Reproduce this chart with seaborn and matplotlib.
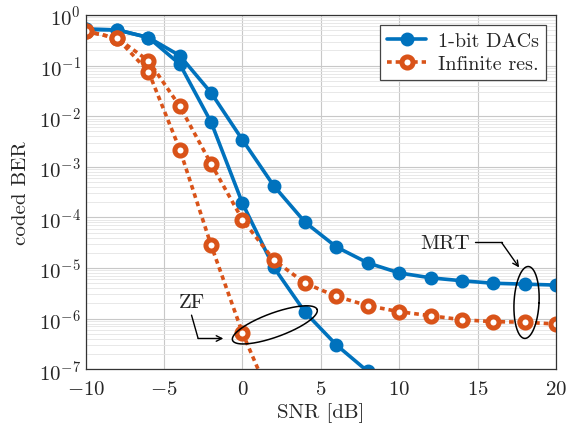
import numpy as np
import pandas as pd
import matplotlib
matplotlib.use('Agg')
import matplotlib.pyplot as plt
import seaborn as sns

# SNR grid and BER curves
snr = [-10, -8, -6, -4, -2, 0, 2, 4, 6, 8, 10, 12, 14, 16, 18, 20]
ber_1bit_mrt = [0.53, 0.51, 0.36, 0.158, 0.029, 3.4e-3, 4.2e-4, 8.0e-5, 2.6e-5, 1.26e-5,
                8.0e-6, 6.4e-6, 5.6e-6, 5.0e-6, 4.8e-6, 4.6e-6]
ber_inf_mrt = [0.48, 0.35, 0.125, 0.0157, 1.14e-3, 9.0e-5, 1.44e-5, 5.0e-6, 2.75e-6, 1.8e-6,
               1.37e-6, 1.14e-6, 9.5e-7, 8.7e-7, 8.5e-7, 7.8e-7]
snr_zf_1bit = [-10, -8, -6, -4, -2, 0, 2, 4, 6, 8]
ber_1bit_zf = [0.52, 0.51, 0.36, 0.107, 7.6e-3, 1.9e-4, 1.03e-5, 1.33e-6, 3.0e-7, 9.0e-8]
snr_zf_inf = [-10, -8, -6, -4, -2, 0, 2]
ber_inf_zf = [0.48, 0.35, 0.076, 2.2e-3, 2.8e-5, 5.2e-7, 1.9e-8]

blue = '#0072BD'
orange = '#D95319'

sns.set_style('whitegrid')
plt.rcParams['font.family'] = 'serif'
plt.rcParams['font.serif'] = ['cmr10', 'DejaVu Serif']
plt.rcParams['mathtext.fontset'] = 'cm'
plt.rcParams['axes.formatter.use_mathtext'] = True
plt.rcParams['axes.unicode_minus'] = True

fig, ax = plt.subplots(figsize=(5.76, 4.35), dpi=100)
fig.subplots_adjust(left=0.149, right=0.965, bottom=0.149, top=0.963)

blue_kw = dict(color=blue, lw=2.6, marker='o', markersize=8.5, markerfacecolor=blue,
               markeredgecolor=blue, markeredgewidth=1.5)
orange_kw = dict(color=orange, lw=2.6, dashes=(1.3, 1.1), marker='o', markersize=8,
                 markerfacecolor='white', markeredgecolor=orange, markeredgewidth=3.6)

sns.lineplot(x=snr, y=ber_1bit_mrt, ax=ax, label='1-bit DACs', **blue_kw)
sns.lineplot(x=snr_zf_1bit, y=ber_1bit_zf, ax=ax, **blue_kw)
sns.lineplot(x=snr, y=ber_inf_mrt, ax=ax, label='Infinite res.', **orange_kw)
sns.lineplot(x=snr_zf_inf, y=ber_inf_zf, ax=ax, **orange_kw)

ax.set_yscale('log')
ax.set_xlim(-10, 20)
ax.set_ylim(1e-7, 1)
ax.set_xticks([-10, -5, 0, 5, 10, 15, 20])
ax.set_yticks([10.0**k for k in range(-7, 1)])
ax.yaxis.set_minor_locator(matplotlib.ticker.LogLocator(base=10, subs=np.arange(2, 10), numticks=20))
ax.yaxis.set_minor_formatter(matplotlib.ticker.NullFormatter())
ax.grid(True, which='major', color='#c8c8c8', lw=0.8)
ax.grid(True, which='minor', axis='y', color='#e4e4e4', lw=0.6)
ax.tick_params(which='both', direction='in', labelsize=15, length=3, color='#444444')
ax.tick_params(which='minor', length=2)
ax.tick_params(axis='x', pad=8)
for s in ax.spines.values():
    s.set_color('#333333')
    s.set_linewidth(0.9)

ax.set_xlabel('SNR [dB]', fontsize=15, labelpad=3)
ax.set_ylabel('coded BER', fontsize=15, labelpad=6)

leg = ax.legend(loc='upper right', fontsize=14.5, frameon=True, fancybox=False,
                edgecolor='#444444', framealpha=1, handlelength=1.9, borderpad=0.35,
                labelspacing=0.25, handletextpad=0.6)
leg.get_frame().set_linewidth(0.9)

# annotation ellipses drawn in pixel space, placed in axes fraction
W, H = 470.0, 354.0
def ellipse(cx, cy, a, b, ang):
    t = np.linspace(0, 2 * np.pi, 200)
    th = np.deg2rad(ang)
    px = cx + a * np.cos(t) * np.cos(th) - b * np.sin(t) * np.sin(th)
    py = cy + a * np.cos(t) * np.sin(th) + b * np.sin(t) * np.cos(th)
    ax.plot(px / W, py / H, color='black', lw=1.1, transform=ax.transAxes, clip_on=False)

# pixel coords relative to axes lower-left corner
ellipse(275 - 86, 370 - 325.7, 45, 12, 20)
ellipse(526.7 - 86, 370 - 303.3, 12.5, 36, -3)

def frac(px, py):
    return ((px - 86) / W, (370 - py) / H)

ax.text(*frac(191.7, 302.7), 'ZF', transform=ax.transAxes, fontsize=15, ha='center', va='center')
ax.plot(*zip(frac(191.7, 316), frac(198.3, 339.3)), color='black', lw=1, transform=ax.transAxes)
ax.annotate('', xy=frac(223.5, 339.3), xytext=frac(198.3, 339.3), xycoords='axes fraction',
            arrowprops=dict(arrowstyle='->', lw=1, color='black', shrinkA=0, shrinkB=0))

ax.text(*frac(445, 244), 'MRT', transform=ax.transAxes, fontsize=15, ha='center', va='center')
ax.plot(*zip(frac(475, 243.3), frac(501.7, 243.3)), color='black', lw=1, transform=ax.transAxes)
ax.annotate('', xy=frac(519.3, 268.3), xytext=frac(501.7, 243.3), xycoords='axes fraction',
            arrowprops=dict(arrowstyle='->', lw=1, color='black', shrinkA=0, shrinkB=0))

fig.savefig('out.png', dpi=100)
